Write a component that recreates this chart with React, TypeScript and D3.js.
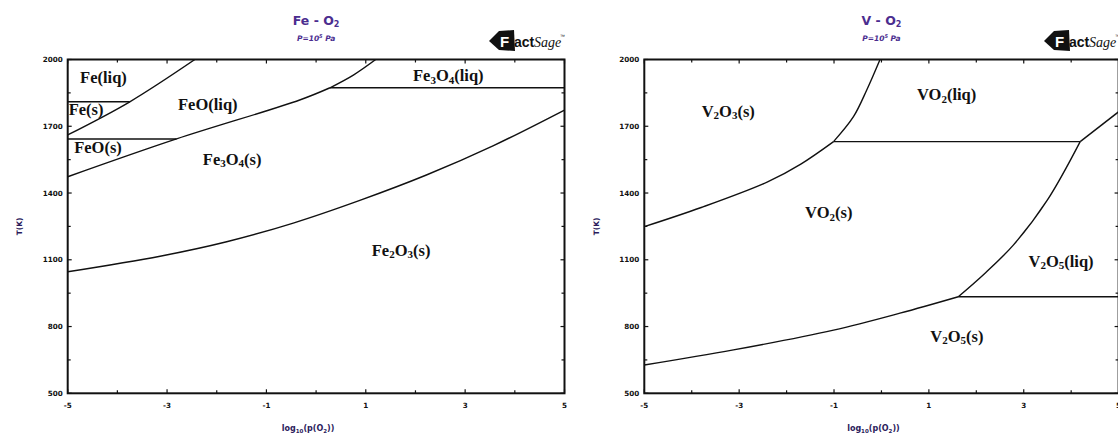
import React from 'react';
import * as d3 from 'd3';

const W = 1118;
const H = 435;

// Axis ticks
const xTickValues = [-5, -4, -3, -2, -1, 0, 1, 2, 3, 4, 5];
const xTickLabels = [-5, -3, -1, 1, 3, 5];
const yTickValues = [500, 650, 800, 950, 1100, 1250, 1400, 1550, 1700, 1850, 2000];
const yTickLabels = [500, 800, 1100, 1400, 1700, 2000];

// ---------- Fe - O2 phase boundaries: [log10 p(O2), T(K)] ----------
const feFeoLiqBoundary = [[-5, 1661], [-3.75, 1810], [-2.44, 2000]];
const feoFe3o4Boundary = [[-5, 1473], [-2.81, 1643], [-0.33, 1818], [0.28, 1873]];
const feoLiqFe3o4LiqBoundary = [[0.28, 1873], [0.75, 1930], [1.2, 2000]];
const fe3o4Fe2o3Boundary = [[-5, 1046], [-3.14, 1116], [-1.8, 1181], [-0.46, 1265], [0.88, 1367], [2.22, 1481], [3.56, 1612], [5, 1773]];
// isotherms: [xFrom, xTo, T]
const feIsotherms = [[-5, -3.75, 1810], [-5, -2.81, 1643], [0.28, 5, 1873]];
const feLabels = [
  { text: 'Fe(liq)', x: -4.75, T: 1893 },
  { text: 'Fe(s)', x: -4.98, T: 1751 },
  { text: 'FeO(liq)', x: -2.78, T: 1773 },
  { text: 'FeO(s)', x: -4.87, T: 1580 },
  { text: 'Fe3O4(s)', x: -2.28, T: 1526 },
  { text: 'Fe3O4(liq)', x: 1.95, T: 1903 },
  { text: 'Fe2O3(s)', x: 1.12, T: 1119 },
];

// ---------- V - O2 phase boundaries ----------
const v2o3Vo2Boundary = [[-5, 1249], [-3.8, 1335], [-2.4, 1450], [-1.7, 1530], [-1.01, 1631]];
const v2o3Vo2LiqBoundary = [[-1.01, 1631], [-0.59, 1743], [-0.31, 1863], [-0.03, 2000]];
const vo2V2o5LiqBoundary = [[1.62, 934], [2.19, 1041], [2.78, 1166], [3.5, 1369], [4.19, 1631]];
const vo2LiqV2o5LiqBoundary = [[4.19, 1631], [5, 1765]];
const vo2V2o5Boundary = [[-5, 627], [-3.12, 695], [-1.01, 784], [0.39, 860], [1.62, 934]];
const vIsotherms = [[-1.01, 4.19, 1631], [1.62, 5, 934]];
const vLabels = [
  { text: 'V2O3(s)', x: -3.79, T: 1743 },
  { text: 'VO2(liq)', x: 0.75, T: 1818 },
  { text: 'VO2(s)', x: -1.61, T: 1286 },
  { text: 'V2O5(liq)', x: 3.1, T: 1068 },
  { text: 'V2O5(s)', x: 1.03, T: 732 },
];

const panels = [
  {
    id: 'fe',
    el: 'Fe',
    left: 67.7,
    right: 564.5,
    logoX: 489,
    yLabelX: 22,
    curves: [feFeoLiqBoundary, feoFe3o4Boundary, feoLiqFe3o4LiqBoundary, fe3o4Fe2o3Boundary],
    isotherms: feIsotherms,
    labels: feLabels,
  },
  {
    id: 'v',
    el: 'V',
    left: 644.3,
    right: 1118.6,
    logoX: 1044,
    yLabelX: 599,
    curves: [v2o3Vo2Boundary, v2o3Vo2LiqBoundary, vo2V2o5LiqBoundary, vo2LiqV2o5LiqBoundary, vo2V2o5Boundary],
    isotherms: vIsotherms,
    labels: vLabels,
  },
];

const TOP = 59.5;
const BOTTOM = 393.3;
const PURPLE = '#4b2d8f';
const NAVY = '#2b1b5c';
const TICKFONT = "'DejaVu Sans', sans-serif";

function Formula({ text, x, y }: { text: string; x: number; y: number }) {
  const parts = text.split(/(\d+)/).filter((p) => p.length > 0);
  let shifted = false;
  return (
    <text x={x} y={y} fontFamily="'Liberation Serif', 'Times New Roman', serif" fontWeight="bold" fontSize={16.5} fill="#111">
      {parts.map((p, i) => {
        const isSub = /^\d+$/.test(p);
        let dy = 0;
        if (isSub && !shifted) { dy = 2.5; shifted = true; }
        else if (!isSub && shifted) { dy = -2.5; shifted = false; }
        return (
          <tspan key={i} dy={dy} fontSize={isSub ? 11 : 16.5}>{p}</tspan>
        );
      })}
    </text>
  );
}

function Logo({ x, y }: { x: number; y: number }) {
  return (
    <g transform={`translate(${x},${y})`}>
      <path d="M0,11 L10,1 L25,0 L26,21 L10,20 Z" fill="#111" />
      <text x={11} y={17} fontFamily="'Liberation Sans', Arial, sans-serif" fontWeight="bold" fontSize={15} fill="#fff">F</text>
      <text x={25} y={17} fontFamily="'Liberation Sans', Arial, sans-serif" fontWeight="bold" fontSize={14} fill="#111">act</text>
      <text x={45} y={17} fontFamily="'Liberation Serif', serif" fontStyle="italic" fontSize={14} fill="#111">Sage</text>
      <text x={71} y={8} fontFamily="'Liberation Sans', Arial, sans-serif" fontSize={5} fill="#111">™</text>
    </g>
  );
}

function Panel({ p }: { p: typeof panels[number] }) {
  const x = d3.scaleLinear().domain([-5, 5]).range([p.left, p.right]);
  const y = d3.scaleLinear().domain([500, 2000]).range([BOTTOM, TOP]);
  const line = d3
    .line<number[]>()
    .x((d) => x(d[0]))
    .y((d) => y(d[1]))
    .curve(d3.curveCatmullRom.alpha(0.5));
  const cx = (p.left + p.right) / 2;
  const clipId = `clip-${p.id}`;
  return (
    <g>
      <defs>
        <clipPath id={clipId}>
          <rect x={p.left} y={TOP} width={p.right - p.left} height={BOTTOM - TOP} />
        </clipPath>
      </defs>
      {/* Title */}
      <text x={cx} y={25} textAnchor="middle" fontFamily={TICKFONT} fontWeight="bold" fontSize={12.5} fill={PURPLE}>
        {p.el} - O<tspan fontSize={8} dy={2}>2</tspan>
      </text>
      <text x={cx} y={41} textAnchor="middle" fontFamily={TICKFONT} fontWeight="bold" fontStyle="italic" fontSize={7.5} fill={PURPLE}>
        P=10<tspan fontSize={5} dy={-3}>5</tspan><tspan dy={3}> Pa</tspan>
      </text>
      <Logo x={p.logoX} y={30} />

      {/* curves */}
      <g clipPath={`url(#${clipId})`} fill="none" stroke="#111" strokeWidth={1.4}>
        {p.curves.map((c, i) => (
          <path key={i} d={line(c) || ''} />
        ))}
        {p.isotherms.map((iso, i) => (
          <line key={`iso${i}`} x1={x(iso[0])} x2={x(iso[1])} y1={y(iso[2])} y2={y(iso[2])} />
        ))}
      </g>

      {/* Labels */}
      {p.labels.map((l, i) => (
        <Formula key={i} text={l.text} x={x(l.x)} y={y(l.T)} />
      ))}

      {/* Frame */}
      <rect x={p.left} y={TOP} width={p.right - p.left} height={BOTTOM - TOP} fill="none" stroke="#111" strokeWidth={2} />

      {/* ticks */}
      <g stroke="#111" strokeWidth={1.2}>
        {xTickValues.map((v) => {
          const len = xTickLabels.includes(v) ? 4 : 3;
          return (
            <g key={`xt${v}`}>
              <line x1={x(v)} x2={x(v)} y1={BOTTOM} y2={BOTTOM - len} />
              <line x1={x(v)} x2={x(v)} y1={TOP} y2={TOP + len} />
            </g>
          );
        })}
        {yTickValues.map((v) => {
          const len = yTickLabels.includes(v) ? 4 : 3;
          return (
            <g key={`yt${v}`}>
              <line x1={p.left} x2={p.left + len} y1={y(v)} y2={y(v)} />
              <line x1={p.right} x2={p.right - len} y1={y(v)} y2={y(v)} />
            </g>
          );
        })}
      </g>
      <g fontFamily={TICKFONT} fontWeight="bold" fontSize={7.2} fill="#111">
        {xTickLabels.map((v) => (
          <text key={`xl${v}`} x={x(v)} y={408} textAnchor="middle">{v}</text>
        ))}
        {yTickLabels.map((v) => (
          <text key={`yl${v}`} x={p.left - 5} y={y(v) + 2.5} textAnchor="end">{v}</text>
        ))}
      </g>

      {/* Axis titles */}
      <text x={cx - 8} y={431} textAnchor="middle" fontFamily={TICKFONT} fontWeight="bold" fontSize={8} fill={NAVY}>
        log<tspan fontSize={5.5} dy={2}>10</tspan><tspan dy={-2}>(p(O</tspan><tspan fontSize={5.5} dy={2}>2</tspan><tspan dy={-2}>))</tspan>
      </text>
      <text
        transform={`translate(${p.yLabelX},${(TOP + BOTTOM) / 2}) rotate(-90)`}
        textAnchor="middle"
        fontFamily={TICKFONT}
        fontWeight="bold"
        fontSize={7.5}
        fill={NAVY}
      >
        T(K)
      </text>
    </g>
  );
}

export default function App() {
  return (
    <svg
      width={W}
      height={H}
      viewBox={`0 0 ${W} ${H}`}
      style={{ position: 'absolute', left: 0, top: 0, background: '#fff' }}
    >
      <rect x={0} y={0} width={W} height={H} fill="#fff" />
      {panels.map((p) => (
        <Panel key={p.id} p={p} />
      ))}
    </svg>
  );
}
